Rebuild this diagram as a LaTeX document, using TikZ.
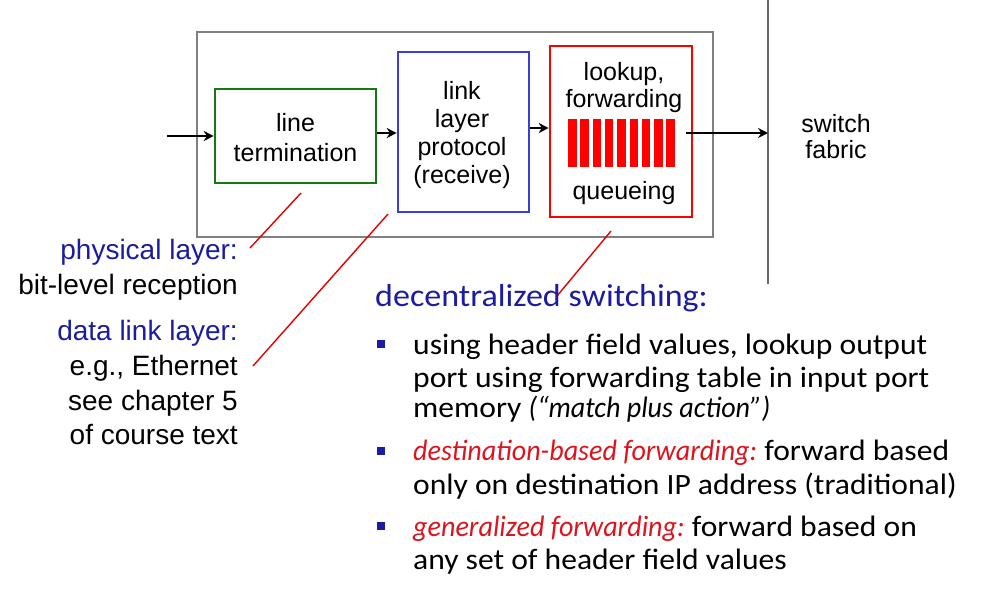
\documentclass[tikz,border=0pt]{standalone}
\usepackage{fontspec}
\usepackage{graphicx}
\setmainfont{Liberation Sans}
\newfontfamily\gill[FakeStretch=1.07]{Carlito}
\newcommand\itx[1]{\scalebox{0.89}[1]{\itshape #1}}
\usetikzlibrary{arrows.meta}
\definecolor{navy}{RGB}{28,28,160}
\definecolor{boxgreen}{RGB}{20,120,20}
\definecolor{boxblue}{RGB}{60,60,220}
\definecolor{italred}{RGB}{220,20,30}
\definecolor{grayline}{RGB}{128,128,128}
\begin{document}
\begin{tikzpicture}[x=1pt,y=-1pt,
 arr/.style={line width=2.6pt, -{Stealth[length=10pt,width=10pt]}},
 pointer/.style={draw=red!90!black, line width=1.4pt},
 blk/.style={draw, line width=2.6pt, inner sep=0pt},
 boxtxt/.style={font=\fontsize{25}{28}\selectfont, align=center, inner sep=0pt},
 lbl/.style={font=\fontsize{28}{34}\selectfont, inner sep=0pt, anchor=east, text height=20pt, text depth=6pt},
 btxt/.style={font=\gill\fontsize{29.5}{34}\selectfont, inner sep=0pt, anchor=west, text height=21pt, text depth=6pt},
 bul/.style={fill=navy, minimum size=8pt, inner sep=0pt}
]
\useasboundingbox (0,0) rectangle (982,590);
% frame and blocks
\node[draw=grayline, line width=1.8pt, minimum width=516pt, minimum height=205pt, inner sep=0pt] (outer) at (455,134.5) {};
\node[blk, draw=boxgreen, minimum width=161pt, minimum height=94pt] (green) at (295.5,136) {};
\node[boxtxt, font=\fontsize{25}{30}\selectfont] (greentxt) at (295.5,138) {line\\termination};
\node[blk, draw=boxblue, minimum width=131pt, minimum height=160pt] (blue) at (463.5,132) {};
\node[boxtxt] (bluetxt) at (462,135) {link\\layer\\protocol\\(receive)};
\node[blk, draw=red, minimum width=142pt, minimum height=171pt] (red) at (621,131.5) {};
\node[boxtxt] (lookup) at (624,74) {lookup,};
\node[boxtxt] (fwd) at (624,101) {forwarding};
\node[boxtxt] (queue) at (624,193) {queueing};
\foreach \i in {0,...,8} \fill[red] ({568+\i*12.3},119) rectangle +(8.5,48);
% switch fabric
\coordinate (vtop) at (768,0);
\coordinate (vbot) at (768,284);
\draw[grayline!80!black, line width=1.8pt] (vtop) -- (vbot);
\node[boxtxt, font=\fontsize{25}{26}\selectfont] (sf) at (836,137) {switch\\fabric};
% arrows
\coordinate (in) at (167,136);
\coordinate (y133) at (0,133);
\coordinate (y128) at (0,128);
\coordinate (outS) at (686,133);
\coordinate (outE) at (768,133);
\draw[arr] (in) -- (green.west);
\draw[arr] (green.east |- y133) -- (blue.west |- y133);
\draw[arr] (blue.east |- y128) -- (red.west |- y128);
\draw[arr] (outS) -- (outE);
% pointers
\coordinate (p1a) at (301,193); \coordinate (p1b) at (250,248);
\coordinate (p2a) at (388,214); \coordinate (p2b) at (253,366);
\coordinate (p3a) at (611,231); \coordinate (p3b) at (557,296);
\draw[pointer] (p1a) -- (p1b);
\draw[pointer] (p2a) -- (p2b);
\draw[pointer] (p3a) -- (p3b);
% left labels
\node[lbl, text=navy] (phys) at (238,252) {physical layer:};
\node[lbl] (bitl) at (238,287) {bit-level reception};
\node[lbl, text=navy] (dll) at (238,333) {data link layer:};
\node[lbl] (eth) at (238,368) {e.g., Ethernet};
\node[lbl] (chap) at (238,403) {see chapter 5};
\node[lbl] (course) at (238,437) {of course text};
% bullets
\node[btxt, font=\gill\fontsize{31.8}{34}\selectfont, text=navy] (title) at (375,299) {decentralized switching:};
\node[bul] (b1) at (381,344) {};
\node[bul] (b2) at (381,451) {};
\node[bul] (b3) at (381,526) {};
\node[btxt] (l1) at (413,347) {using header field values, lookup output};
\node[btxt] (l2) at (413,380) {port using forwarding table in input port};
\node[btxt] (l3) at (413,410) {memory \itx{(“match plus action”)}};
\node[btxt] (l4) at (413,453) {\textcolor{italred}{\itx{destination-based forwarding:}} forward based};
\node[btxt] (l5) at (413,487) {only on destination IP address (traditional)};
\node[btxt] (l6) at (413,529) {\textcolor{italred}{\itx{generalized forwarding:}} forward based on};
\node[btxt] (l7) at (413,562) {any set of header field values};
\end{tikzpicture}
\end{document}
